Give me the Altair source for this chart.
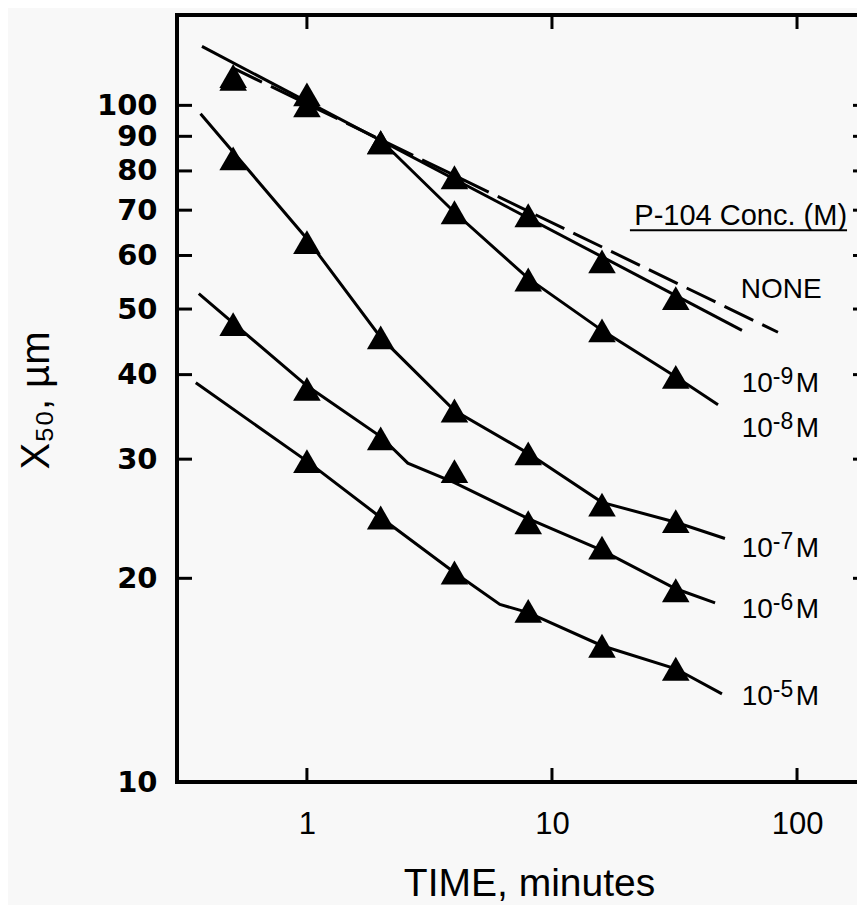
import altair as alt
import pandas as pd

# ---------------- data ----------------
TIMES = [0.5, 1, 2, 4, 8, 16, 32]          # minutes

# triangle markers, X50 in µm (None = no marker)
MARK_NONE = [110.5, 103.8, 88.2, 78.3, 68.8, 58.8, 51.9]
MARK_E9 = [109.5, 100.0, 88.2, None, None, None, None]
MARK_E8 = [None, None, None, 69.5, 55.3, 46.5, 39.7]
MARK_E7 = [83.5, 62.8, 45.4, 35.4, 30.6, 25.7, 24.3]
MARK_E6 = [47.5, 38.1, 32.2, 28.8, 24.2, 22.2, 19.2]
MARK_E5 = [None, 29.8, 24.6, 20.4, 17.9, 15.9, 14.7]

# drawn curves (time, X50)
CURVE_NONE_T = [0.5, 83.6]
CURVE_NONE_Y = [113.5, 46.2]
CURVE_E9_T = [0.373, 59.6]
CURVE_E9_Y = [122.2, 46.5]
CURVE_E8_T = [2, 4, 8, 16, 32, 47.6]
CURVE_E8_Y = [88.8, 69.5, 55.5, 46.5, 39.7, 36.1]
CURVE_E7_T = [0.368, 1, 2, 4, 8, 16, 32, 50.8]
CURVE_E7_Y = [97.2, 63.5, 45.4, 35.4, 30.6, 25.9, 24.2, 22.9]
CURVE_E6_T = [0.362, 1, 2, 2.58, 4, 8, 16, 32, 46.3]
CURVE_E6_Y = [52.7, 38.5, 32.4, 29.6, 27.7, 24.5, 22.0, 19.3, 18.4]
CURVE_E5_T = [0.352, 1, 2, 4, 6.13, 8, 16, 32, 49.4]
CURVE_E5_Y = [38.9, 29.8, 24.6, 20.4, 18.3, 17.8, 15.9, 14.7, 13.5]

# curve labels: base text, superscript, suffix
LABEL_BASE = ["NONE", "10", "10", "10", "10", "10"]
LABEL_SUP = ["", "-9", "-8", "-7", "-6", "-5"]
LABEL_SUFFIX = ["", "M", "M", "M", "M", "M"]
LABEL_T = [59.0, 59.5, 59.5, 59.5, 59.5, 59.5]
LABEL_Y = [52.0, 37.7, 32.3, 21.5, 17.5, 13.0]

HEADER = ["P-104 Conc. (M)"]
HEADER_T = [160]
HEADER_Y = [66.5]
UNDERLINE_T = [20.8]
UNDERLINE_T2 = [160]
UNDERLINE_Y = [65.4]

X_TICKS = [1, 10, 100]
Y_TICKS = [20, 30, 40, 50, 60, 70, 80, 90, 100]
Y_LABELS = [10, 20, 30, 40, 50, 60, 70, 80, 90, 100]

# ---------------- tables ----------------
marks = []
for name, vals in [("NONE", MARK_NONE), ("E9", MARK_E9), ("E8", MARK_E8),
                   ("E7", MARK_E7), ("E6", MARK_E6), ("E5", MARK_E5)]:
    for t, v in zip(TIMES, vals):
        if v is not None:
            marks.append({"series": name, "t": t, "y": v})
marks = pd.DataFrame(marks)

curves = []
for name, ts, ys, dashed in [("NONE", CURVE_NONE_T, CURVE_NONE_Y, True),
                             ("E9", CURVE_E9_T, CURVE_E9_Y, False),
                             ("E8", CURVE_E8_T, CURVE_E8_Y, False),
                             ("E7", CURVE_E7_T, CURVE_E7_Y, False),
                             ("E6", CURVE_E6_T, CURVE_E6_Y, False),
                             ("E5", CURVE_E5_T, CURVE_E5_Y, False)]:
    for i, (t, v) in enumerate(zip(ts, ys)):
        curves.append({"curve": name, "i": i, "t": t, "y": v, "dashed": dashed})
curves = pd.DataFrame(curves)
solid = curves[~curves["dashed"]]
dashed = curves[curves["dashed"]]

labels = pd.DataFrame({"base": LABEL_BASE, "sup": LABEL_SUP, "suffix": LABEL_SUFFIX,
                       "t": LABEL_T, "y": LABEL_Y})
header = pd.DataFrame({"label": HEADER, "t": HEADER_T, "y": HEADER_Y})
underline = pd.DataFrame({"t": UNDERLINE_T, "t2": UNDERLINE_T2, "y": UNDERLINE_Y})
xt = pd.DataFrame({"t": X_TICKS})
yt = pd.DataFrame({"y": Y_TICKS})

# ---------------- layout ----------------
W, H = 690, 767
FONT = "Liberation Sans"

xs = alt.Scale(type="log", domain=[0.295, 193])
ys = alt.Scale(type="log", domain=[10, 136])

xaxis = alt.Axis(values=X_TICKS, format="~g", labelFont=FONT, labelFontSize=31,
                 labelColor="black", labelPadding=51, labelBaseline="alphabetic",
                 labelFlush=False, ticks=False, tickSize=0, domain=False, grid=False,
                 title="TIME, minutes", titleFont=FONT, titleFontSize=39,
                 titleFontWeight="normal", titleColor="black", titleX=352, titleY=113,
                 titleBaseline="alphabetic", titleAlign="center")
yaxis = alt.Axis(values=Y_LABELS, format="~g", labelFont="DejaVu Sans", labelFontSize=29,
                 labelFontWeight="bold", labelColor="black", labelPadding=20,
                 labelOverlap=False, labelFlush=False, ticks=False, tickSize=0,
                 domain=False, grid=False,
                 title="X\u2085\u2080, \u00b5m", titleFont=FONT, titleFontSize=40,
                 titleFontWeight="normal", titleColor="black", titleAngle=270,
                 titleX=-129, titleY=385, titleBaseline="alphabetic", titleAlign="center")


def X(field="t"):
    return alt.X(f"{field}:Q", scale=xs, axis=xaxis)


def Y(field="y"):
    return alt.Y(f"{field}:Q", scale=ys, axis=yaxis)


solid_lines = alt.Chart(solid).mark_line(color="black", strokeWidth=3).encode(
    x=X(), y=Y(), detail="curve:N", order="i:Q")
dashed_lines = alt.Chart(dashed).mark_line(color="black", strokeWidth=3,
                                           strokeDash=[32, 10]).encode(
    x=X(), y=Y(), detail="curve:N", order="i:Q")
points = alt.Chart(marks).mark_point(shape="triangle-up", filled=True, size=760,
                                     color="black", opacity=1, strokeWidth=0).encode(
    x=X(), y=Y())
label_base = alt.Chart(labels).mark_text(align="left", baseline="alphabetic", font=FONT,
                                         fontSize=28, color="black").encode(
    x=X(), y=Y(), text="base:N")
label_sup = alt.Chart(labels).mark_text(align="left", baseline="alphabetic", font=FONT,
                                        fontSize=23, color="black", dx=31, dy=-8).encode(
    x=X(), y=Y(), text="sup:N")
label_suffix = alt.Chart(labels).mark_text(align="left", baseline="alphabetic", font=FONT,
                                           fontSize=28, color="black", dx=54).encode(
    x=X(), y=Y(), text="suffix:N")
header_text = alt.Chart(header).mark_text(align="right", baseline="alphabetic", font=FONT,
                                          fontSize=29, color="black").encode(
    x=X(), y=Y(), text="label:N")
header_rule = alt.Chart(underline).mark_rule(color="black", strokeWidth=2).encode(
    x=X(), x2="t2:Q", y=Y())

tick_left = alt.Chart(yt).mark_rule(color="black", strokeWidth=3).encode(
    y=Y(), x=alt.value(0), x2=alt.value(15))
tick_right = alt.Chart(yt).mark_rule(color="black", strokeWidth=3).encode(
    y=Y(), x=alt.value(W - 14), x2=alt.value(W))
tick_top = alt.Chart(xt).mark_rule(color="black", strokeWidth=3).encode(
    x=X(), y=alt.value(0), y2=alt.value(14))
tick_bottom = alt.Chart(xt).mark_rule(color="black", strokeWidth=3).encode(
    x=X(), y=alt.value(H - 14), y2=alt.value(H))

chart = alt.layer(
    tick_left, tick_right, tick_top, tick_bottom,
    dashed_lines, solid_lines, points,
    label_base, label_sup, label_suffix, header_text, header_rule,
).properties(
    width=W, height=H,
    autosize=alt.AutoSizeParams(type="none"),
    padding={"left": 169, "top": 7, "right": -10, "bottom": 123},
    background="#f8f8f8",
).configure_view(stroke="black", strokeWidth=4)

chart.save("out.html", embed_options={"renderer": "svg", "actions": False})
